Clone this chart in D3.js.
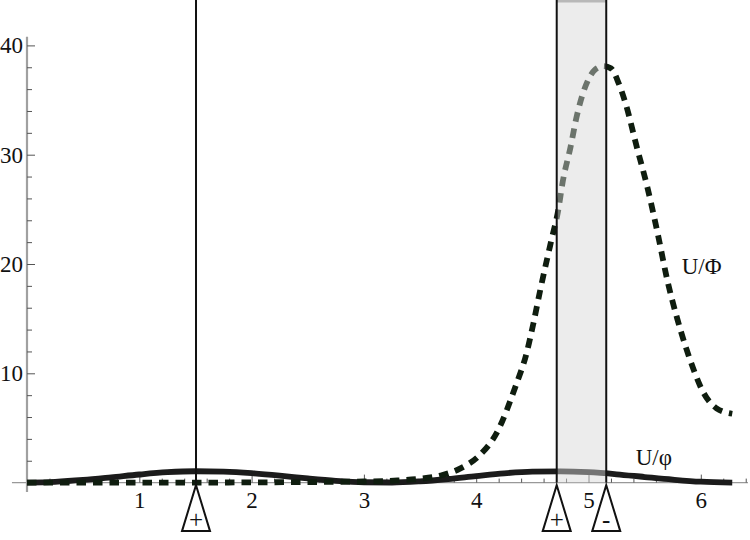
<!DOCTYPE html>
<html>
<head>
<meta charset="utf-8">
<script src="https://cdn.jsdelivr.net/npm/d3@7"></script>
<style>
  html, body { margin: 0; padding: 0; background: #fff; }
  svg { display: block; }
  text { font-family: "Liberation Serif", "DejaVu Serif", serif; }
</style>
</head>
<body>
<svg id="chart" width="750" height="540"></svg>
<script>
// ---- data ----
const xMajorTicks = [1, 2, 3, 4, 5, 6];
const yMajorTicks = [10, 20, 30, 40];
const xMinorTicks = d3.range(0.2, 6.45, 0.2).filter(v => Math.abs(v - Math.round(v)) > 1e-6);
const yMinorTicks = [2, 4, 6, 8, 12, 14, 16, 18, 22, 24, 26, 28, 32, 34, 36, 38];

// U/φ (solid)
const smallX = [0, 0.25, 0.5, 0.75, 1, 1.25, 1.5, 1.75, 2, 2.25, 2.5, 2.75, 3, 3.25, 3.5, 3.75, 4, 4.25, 4.5, 4.75, 5, 5.25, 5.5, 5.75, 6, 6.28];
const smallY = [0, 0.07, 0.24, 0.48, 0.74, 0.95, 1.04, 1.0, 0.86, 0.64, 0.38, 0.16, 0.03, 0.01, 0.12, 0.33, 0.6, 0.85, 1.0, 1.03, 0.95, 0.76, 0.51, 0.27, 0.08, 0.0];

// U/Φ (dashed)
const bigX = [0, 0.5, 1.0, 1.5, 2.0, 2.5, 3.0, 3.3, 3.5, 3.7, 3.86, 4.03, 4.18, 4.35, 4.45, 4.51, 4.57, 4.63, 4.67, 4.73, 4.77, 4.84, 4.895, 4.95, 5.01, 5.06, 5.13, 5.2, 5.27, 5.33, 5.43, 5.52, 5.62, 5.70, 5.79, 5.86, 5.93, 6.02, 6.14, 6.28];
const bigY = [0, 0, 0, 0, 0.02, 0.05, 0.1, 0.2, 0.35, 0.7, 1.3, 2.5, 4.5, 8.8, 11.9, 14.6, 17.6, 20.4, 22.2, 24.9, 27.5, 30.7, 33.5, 35.6, 37.1, 37.8, 38.1, 37.9, 36.5, 34.7, 30.7, 27.2, 22.6, 18.6, 15.0, 12.6, 10.5, 8.3, 6.8, 6.3];

const markerX = [1.505, 4.717, 5.158];
const markerSign = ["+", "+", "-"];
const shadeRange = [4.717, 5.158];
const seriesLabels = ["U/\u03A6", "U/\u03C6"];
const labelAnchors = [[5.83, 19.1], [5.42, 1.6]];

// ---- scales ----
const svg = d3.select("#chart");
const x = d3.scaleLinear().domain([0, 1]).range([27, 139.3]);
const y = d3.scaleLinear().domain([0, 10]).range([482.6, 373.3]);

// ---- axes ----
svg.append("line")
  .attr("x1", x(-0.134)).attr("x2", x(6.42))
  .attr("y1", y(0)).attr("y2", y(0))
  .attr("stroke", "#999").attr("stroke-width", 1.2);
svg.append("line")
  .attr("x1", x(0)).attr("x2", x(0))
  .attr("y1", y(40.8)).attr("y2", y(-0.85))
  .attr("stroke", "#a0a0a0").attr("stroke-width", 2.2);

function styleTicks(g) {
  g.select(".domain").remove();
  g.selectAll(".tick line").attr("stroke", "#555").attr("stroke-width", 1);
}
svg.append("g").attr("transform", `translate(0,${y(0)})`)
  .call(d3.axisTop(x).tickValues(xMinorTicks).tickSize(4).tickFormat(""))
  .call(styleTicks);
svg.append("g").attr("transform", `translate(0,${y(0)})`)
  .call(d3.axisTop(x).tickValues(xMajorTicks).tickSize(8).tickFormat(""))
  .call(styleTicks);
const xl = svg.append("g").attr("transform", `translate(0,${y(0)})`)
  .call(d3.axisBottom(x).tickValues(xMajorTicks).tickSize(0).tickPadding(9).tickFormat(d3.format("d")));
xl.select(".domain").remove();
xl.selectAll("text").attr("font-size", 23).attr("font-family", "Liberation Serif").attr("fill", "#111");

svg.append("g").attr("transform", `translate(${x(0)},0)`)
  .call(d3.axisRight(y).tickValues(yMinorTicks).tickSize(5).tickFormat(""))
  .call(styleTicks);
svg.append("g").attr("transform", `translate(${x(0)},0)`)
  .call(d3.axisRight(y).tickValues(yMajorTicks).tickSize(8).tickFormat(""))
  .call(styleTicks);
const yl = svg.append("g").attr("transform", `translate(${x(0)},0)`)
  .call(d3.axisLeft(y).tickValues(yMajorTicks).tickSize(0).tickPadding(4).tickFormat(d3.format("d")));
yl.select(".domain").remove();
yl.selectAll("text").attr("font-size", 23).attr("font-family", "Liberation Serif").attr("fill", "#111");

// ---- curves ----
const line = d3.line().x(d => x(d[0])).y(d => y(d[1])).curve(d3.curveMonotoneX);
svg.append("path")
  .datum(smallX.map((v, i) => [v, smallY[i]]))
  .attr("d", line)
  .attr("fill", "none").attr("stroke", "#1b1b1b").attr("stroke-width", 5.8);
svg.append("path")
  .datum(bigX.map((v, i) => [v, bigY[i]]))
  .attr("d", line)
  .attr("fill", "none").attr("stroke", "#0f1d0f").attr("stroke-width", 5.8)
  .attr("stroke-dasharray", "9.5,7");

// ---- shaded region ----
svg.append("rect")
  .attr("x", x(shadeRange[0])).attr("y", 0)
  .attr("width", x(shadeRange[1]) - x(shadeRange[0]))
  .attr("height", y(0))
  .attr("fill", "#d6d6d6").attr("fill-opacity", 0.47);
svg.append("line")
  .attr("x1", x(shadeRange[0])).attr("x2", x(shadeRange[1]))
  .attr("y1", 1.2).attr("y2", 1.2)
  .attr("stroke", "#b8b8b8").attr("stroke-width", 2.4);

// ---- vertical marker lines ----
svg.selectAll("line.vmark").data(markerX).enter().append("line")
  .attr("class", "vmark")
  .attr("x1", d => x(d)).attr("x2", d => x(d))
  .attr("y1", 0).attr("y2", y(0))
  .attr("stroke", "#111").attr("stroke-width", 2);

// ---- triangles ----
const tri = svg.selectAll("g.tri").data(markerX).enter().append("g")
  .attr("class", "tri")
  .attr("transform", d => `translate(${x(d)},${y(0)})`);
tri.append("path")
  .attr("d", "M0,2.5 L-14,48.5 L14,48.5 Z")
  .attr("fill", "#fff").attr("stroke", "#111").attr("stroke-width", 2)
  .attr("stroke-linejoin", "miter");
tri.append("text")
  .attr("x", 0).attr("y", 45)
  .attr("text-anchor", "middle")
  .attr("font-size", 25).attr("fill", "#111")
  .text((d, i) => markerSign[i]);

// ---- series labels ----
svg.selectAll("text.slabel").data(seriesLabels).enter().append("text")
  .attr("class", "slabel")
  .attr("x", (d, i) => x(labelAnchors[i][0]))
  .attr("y", (d, i) => y(labelAnchors[i][1]))
  .attr("font-size", 23).attr("fill", "#111")
  .text(d => d);
</script>
</body>
</html>
